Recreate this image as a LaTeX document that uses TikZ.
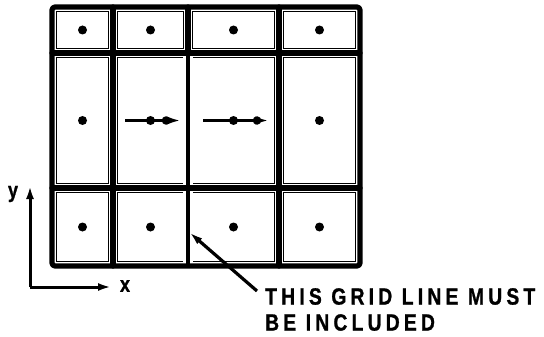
\documentclass[tikz,border=0pt]{standalone}
\usepackage{fontspec}
\setmainfont{Liberation Sans}
\newfontfamily\leroy[FakeStretch=0.82,LetterSpace=18,FakeBold=1]{Liberation Sans Bold}
\usetikzlibrary{arrows.meta}
\begin{document}
\begin{tikzpicture}[x=1pt,y=-1pt]
\tikzstyle{frame}=[line width=5.2pt,line cap=round,line join=round]
\tikzstyle{cellbox}=[draw,line width=1.3pt,inner sep=0pt]
\tikzstyle{centre}=[circle,fill=black,inner sep=0pt,minimum size=9pt]
\tikzstyle{flow}=[line width=3.4pt,-{Latex[length=15pt,width=8pt]}]
\tikzstyle{axis}=[line width=3pt,-{Latex[length=13pt,width=8pt]}]
\tikzstyle{pointer}=[line width=3.2pt,-{Latex[length=14pt,width=7.5pt]}]
\tikzstyle{lettering}=[font=\leroy\fontsize{23.5}{26}\selectfont,align=left,anchor=north west,inner sep=0pt]
\tikzstyle{axlabel}=[font=\leroy\fontsize{22}{22}\selectfont,inner sep=0pt]
\useasboundingbox (0,0) rectangle (544,337);

% thin cell boxes, one dot in each
\foreach \x/\w [count=\i] in {52/113,113/188,188/279,279/360}
  \foreach \y/\h [count=\j] in {7/53,53/188,188/266}
  {
    \node[cellbox,minimum width=\w-\x-9.5,minimum height=\h-\y-9.5] (c\j\i) at ({(\x+\w)/2},{(\y+\h)/2}) {};
    \node[centre] at (c\j\i) {};
  }

% heavy grid lines
\draw[frame,rounded corners=3pt] (52,7) rectangle (360,266);
\draw[frame] (52,53) -- (360,53);
\draw[frame] (52,188) -- (360,188);
\draw[frame] (113,7) -- (113,266);
\draw[frame] (279,7) -- (279,266);
\draw[frame] (188,7) -- (188,53);
% single line below the top row
\fill[white] (183.3,56) rectangle (192.7,185);
\fill[white] (183.3,191) rectangle (192.7,263);
\draw[frame,line width=3.6pt] (188,53) -- (188,266);

% velocities in the two middle cells
\draw[flow] ([xshift=-25.5pt]c22.center) -- ([xshift=31.5pt]c22.center);
\node[centre,minimum size=8.5pt] at ([xshift=15.5pt]c22.center) {};
\draw[flow] ([xshift=-30.5pt]c23.center) -- ([xshift=36.5pt]c23.center);
\node[centre,minimum size=8.5pt] at ([xshift=23.5pt]c23.center) {};

% axes
\coordinate (origin) at (30,287);
\coordinate (ytip) at (30,186);
\coordinate (xtip) at (111,287);
\draw[axis] (origin) -- (ytip);
\draw[axis] (origin) -- (xtip);
\node[axlabel] (ylab) at (13,194) {y};
\node[axlabel] (xlab) at (125,286) {x};

% note
\node[lettering] (note) at (265,288) {THIS GRID LINE MUST\\BE INCLUDED};
\coordinate (tail) at (257,291);
\coordinate (gridline) at (189,232);
\draw[pointer] (tail) -- (gridline);
\end{tikzpicture}
\end{document}
